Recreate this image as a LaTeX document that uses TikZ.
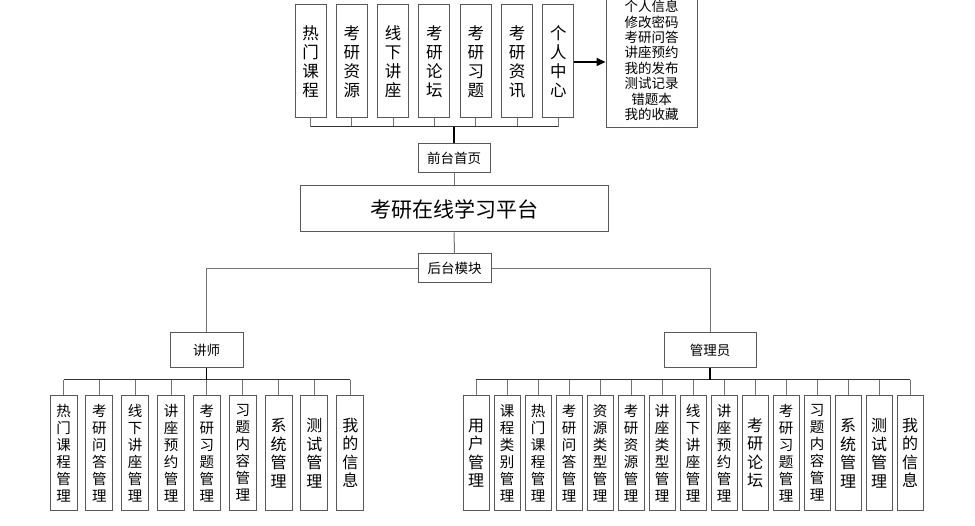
\documentclass[tikz,border=0pt]{standalone}
\usepackage{fontspec}
\setmainfont{Noto Sans CJK SC}
\usetikzlibrary{arrows.meta,positioning}
\tikzset{
  box/.style={draw=black!65, line width=1pt, fill=white, inner sep=0pt, align=center},
  topbox/.style={box, minimum width=31pt, minimum height=113pt, font=\fontsize{16.5}{19}\selectfont},
  leafbox/.style={box, minimum width=27pt, minimum height=114pt},
  adminbox/.style={leafbox, minimum width=26pt},
  txt6/.style={font=\fontsize{14.5}{17}\selectfont},
  txt4/.style={font=\fontsize{16}{18.5}\selectfont},
  midbox/.style={box, minimum width=72pt, minimum height=29pt, font=\fontsize{13.5}{15}\selectfont},
  rolebox/.style={box, minimum height=35pt, font=\fontsize{13.5}{15}\selectfont},
  drop/.style={draw=black!55, line width=1pt},
  bus/.style={draw=black!80, line width=1pt},
  trunk/.style={draw=black, line width=1.8pt},
}
\begin{document}
\begin{tikzpicture}[x=1pt, y=-1pt]
  \useasboundingbox (0,0) rectangle (975,526);
  % front end
  \foreach \t [count=\i] in {{热\\门\\课\\程}, {考\\研\\资\\源}, {线\\下\\讲\\座}, {考\\研\\论\\坛}, {考\\研\\习\\题}, {考\\研\\资\\讯}, {个\\人\\中\\心}}
    \node[topbox] (f\i) at ({310.5+41.33*(\i-1)}, 61.5) {\t};
  \node[box, minimum width=91pt, minimum height=135pt, font=\fontsize{13.5}{15.4}\selectfont] (info) at (651.5, 60.5)
    {个人信息\\修改密码\\考研问答\\讲座预约\\我的发布\\测试记录\\错题本\\我的收藏};
  \draw[-{Triangle[length=9pt, width=8pt]}, line width=1.5pt] (f7.east |- 0,62) -- (info.west |- 0,62);
  \node[midbox] (front) at (454, 158.5) {前台首页};
  \coordinate (fbus) at (454, 127);
  \foreach \i in {1,...,7}
    \draw[drop] (f\i.south) -- (f\i.south |- fbus);
  \draw[bus] (f1.south |- fbus) -- (f7.south |- fbus);
  \draw[trunk] (front.north) -- (fbus);
  % platform
  \node[box, minimum width=308pt, minimum height=46pt, font=\fontsize{21}{24}\selectfont] (plat) at (454, 209) {考研在线学习平台};
  \draw[drop] (front.south) -- (plat.north);
  % back end
  \node[rolebox, minimum width=73pt] (teach) at (206.5, 350.5) {讲师};
  \node[rolebox, minimum width=92pt] (admin) at (710, 350.5) {管理员};
  \draw[drop] (teach.north) -- (teach.north |- 0,269) -- (admin.north |- 0,269) -- (admin.north);
  \node[midbox, minimum width=73pt] (back) at (454.5, 268.5) {后台模块};
  \draw[drop] (plat.south) -- (back.north);
  % teacher modules
  \coordinate (tbus) at (206.5, 380);
  \foreach \t/\s [count=\i] in {{热\\门\\课\\程\\管\\理}/txt6, {考\\研\\问\\答\\管\\理}/txt6, {线\\下\\讲\\座\\管\\理}/txt6, {讲\\座\\预\\约\\管\\理}/txt6, {考\\研\\习\\题\\管\\理}/txt6, {习\\题\\内\\容\\管\\理}/txt6, {系\\统\\管\\理}/txt4, {测\\试\\管\\理}/txt4, {我\\的\\信\\息}/txt4} {
    \node[leafbox, \s] (t\i) at ({63.5+35.85*(\i-1)}, 453) {\t};
    \draw[drop] (t\i.north) -- (t\i.north |- tbus);
  }
  \draw[bus] (t1.north |- tbus) -- (t9.north |- tbus);
  \draw[trunk] (teach.south) -- (tbus);
  % admin modules
  \coordinate (abus) at (710, 380);
  \foreach \t/\s [count=\i] in {{用\\户\\管\\理}/txt4, {课\\程\\类\\别\\管\\理}/txt6, {热\\门\\课\\程\\管\\理}/txt6, {考\\研\\问\\答\\管\\理}/txt6, {资\\源\\类\\型\\管\\理}/txt6, {考\\研\\资\\源\\管\\理}/txt6, {讲\\座\\类\\型\\管\\理}/txt6, {线\\下\\讲\\座\\管\\理}/txt6, {讲\\座\\预\\约\\管\\理}/txt6, {考\\研\\论\\坛}/txt4, {考\\研\\习\\题\\管\\理}/txt6, {习\\题\\内\\容\\管\\理}/txt6, {系\\统\\管\\理}/txt4, {测\\试\\管\\理}/txt4, {我\\的\\信\\息}/txt4} {
    \node[adminbox, \s] (a\i) at ({476+31*(\i-1)}, 453) {\t};
    \draw[drop] (a\i.north) -- (a\i.north |- abus);
  }
  \draw[bus] (a1.north |- abus) -- (a15.north |- abus);
  \draw[trunk] (admin.south) -- (abus);
\end{tikzpicture}
\end{document}
